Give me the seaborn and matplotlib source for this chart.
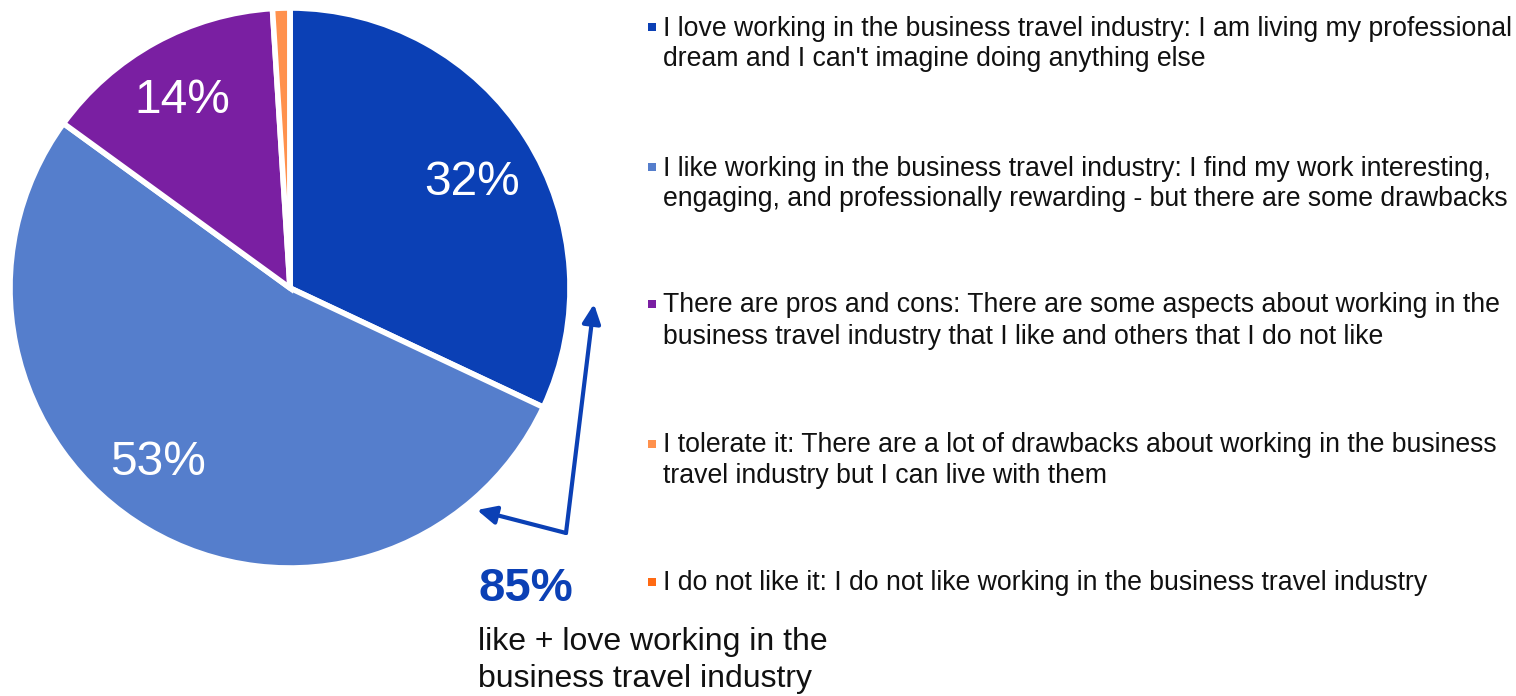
import matplotlib
matplotlib.use("Agg")
import matplotlib.pyplot as plt
import seaborn as sns
import numpy as np

# Survey answers: how do you feel about working in the business travel industry?
categories = [
    "I love working in the business travel industry: I am living my professional\ndream and I can't imagine doing anything else",
    "I like working in the business travel industry: I find my work interesting,\nengaging, and professionally rewarding - but there are some drawbacks",
    "There are pros and cons: There are some aspects about working in the\nbusiness travel industry that I like and others that I do not like",
    "I tolerate it: There are a lot of drawbacks about working in the business\ntravel industry but I can live with them",
    "I do not like it: I do not like working in the business travel industry",
]
shares = [32, 53, 14, 1, 0]
colors = ["#0B40B5", "#557ECC", "#7A1FA2", "#FF914D", "#FF6A13"]
combined_share = 85
combined_label = "like + love working in the\nbusiness travel industry"

sns.set_style("white")
plt.rcParams["font.family"] = ["Liberation Sans", "DejaVu Sans"]
palette = sns.color_palette(colors)

W, H = 1516, 696
fig = plt.figure(figsize=(W / 100, H / 100), dpi=100)

# pie axes: 560 px square
cx, cy, r = 290, 288, 280
ax = fig.add_axes([(cx - r) / W, (H - cy - r) / H, 2 * r / W, 2 * r / H])
wedges, _ = ax.pie(
    shares,
    colors=palette,
    startangle=90,
    counterclock=False,
    radius=1,
    wedgeprops=dict(edgecolor="white", linewidth=4),
)
ax.set_xlim(-1, 1)
ax.set_ylim(-1, 1)
ax.set_aspect("equal")
ax.axis("off")

# percentage labels inside the three large slices (pixel anchor -> data units)
label_anchor = {0: (472, 195), 1: (158, 475), 2: (182, 113)}
for i, (px, py) in label_anchor.items():
    ax.text((px - cx) / r, (cy - py) / r, f"{shares[i]}%", color="white",
            fontsize=34.5, ha="center", va="baseline")

# overlay in pixel coordinates for legend and callout
ov = fig.add_axes([0, 0, 1, 1])
ov.set_xlim(0, W)
ov.set_ylim(H, 0)
ov.axis("off")

first_line_y = [25.5, 165.5, 302.5, 442, 580]
for lab, col, y in zip(categories, palette, first_line_y):
    ov.scatter([651.5], [y + 1.5], marker="s", s=40, color=col, linewidths=0)
    ov.text(663, y - 10, lab, fontsize=19.2, color="#111111", va="top", ha="left",
            linespacing=1.25)

arrow_col = "#0B40B5"
corner = (566, 533)
style = "-|>,head_length=1.15,head_width=0.55"
ov.annotate("", xy=(594, 304), xytext=corner,
            arrowprops=dict(arrowstyle=style, color=arrow_col, lw=3,
                            shrinkA=0, shrinkB=0))
ov.annotate("", xy=(477, 510), xytext=corner,
            arrowprops=dict(arrowstyle=style, color=arrow_col, lw=3,
                            shrinkA=0, shrinkB=0))

ov.text(478, 589, f"{combined_share}%", fontsize=34, fontweight="bold",
        color=arrow_col, va="center", ha="left")
ov.text(478, 627, combined_label, fontsize=23, color="#111111", va="top",
        ha="left", linespacing=1.3)

fig.savefig("out.png", dpi=100, facecolor="white")
